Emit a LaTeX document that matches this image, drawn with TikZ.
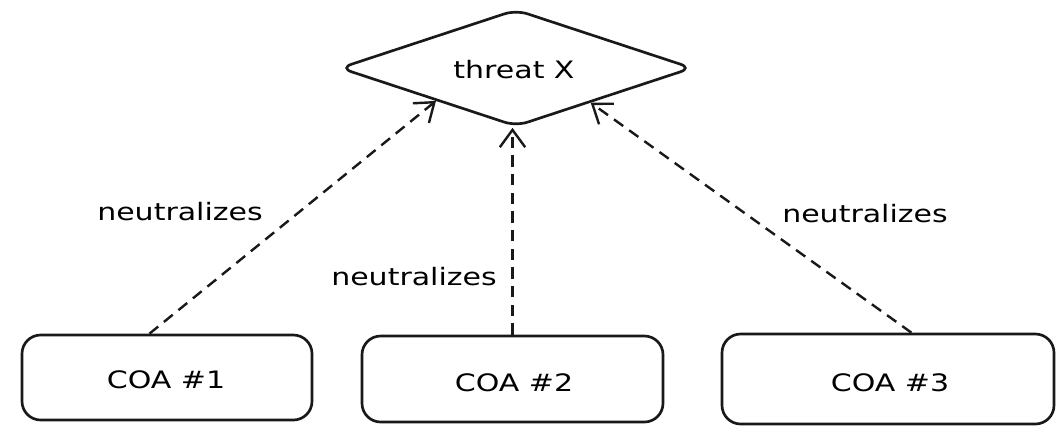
\documentclass[tikz,border=0pt]{standalone}
\usepackage{fontspec}
\setmainfont{DejaVu Sans}
\newfontfamily\handfont[FakeStretch=1.25]{DejaVu Sans}
\usetikzlibrary{shapes.geometric,arrows.meta,calc}
\begin{document}
\begin{tikzpicture}[x=0.75pt,y=-0.75pt,
  ink/.style={draw=black!90, line width=2pt},
  txt/.style={font=\handfont\fontsize{18}{21}\selectfont, inner sep=0pt},
  coabox/.style={ink, rectangle, rounded corners=14pt, inner sep=0pt},
  threatshape/.style={ink, diamond, rounded corners=9pt, inner sep=0pt},
  relation/.style={draw=black!90, line width=1.8pt, dash pattern=on 8.5pt off 5.5pt,
    -{Straight Barb[length=13pt,width=19pt,line width=1.8pt]}},
  edgelabel/.style={txt}]
  \useasboundingbox (0,0) rectangle (1056,426);
  \fill[white] (0,0) rectangle (1056,426);

  % goal node
  \node[threatshape, minimum width=353*0.75pt, minimum height=117*0.75pt] (threat) at (516,68) {};
  \node[txt] (threatlabel) at (514,70) {threat X};

  % courses of action
  \node[coabox, minimum width=290*0.75pt, minimum height=85*0.75pt] (coa1) at (167,377.5) {};
  \node[coabox, minimum width=301*0.75pt, minimum height=86*0.75pt] (coa2) at (512.5,379) {};
  \node[coabox, minimum width=332*0.75pt, minimum height=90*0.75pt] (coa3) at (888,379) {};
  \node[txt] (coa1label) at (166,380) {COA \#1};
  \node[txt] (coa2label) at (514,383) {COA \#2};
  \node[txt] (coa3label) at (890,383) {COA \#3};

  % neutralizes relations
  \draw[relation] ($(coa1.north west)!0.44!(coa1.north east)$) -- ($(threat.west)!0.55!(threat.south)$);
  \draw[relation] (coa2.north) -- (coa2.north |- threat.south);
  \draw[relation] ($(coa3.north west)!0.57!(coa3.north east)$) -- ($(threat.south)!0.42!(threat.east)$);

  \node[edgelabel] (rel1) at (180,212) {neutralizes};
  \node[edgelabel] (rel2) at (414,277) {neutralizes};
  \node[edgelabel] (rel3) at (865,214) {neutralizes};
\end{tikzpicture}
\end{document}
